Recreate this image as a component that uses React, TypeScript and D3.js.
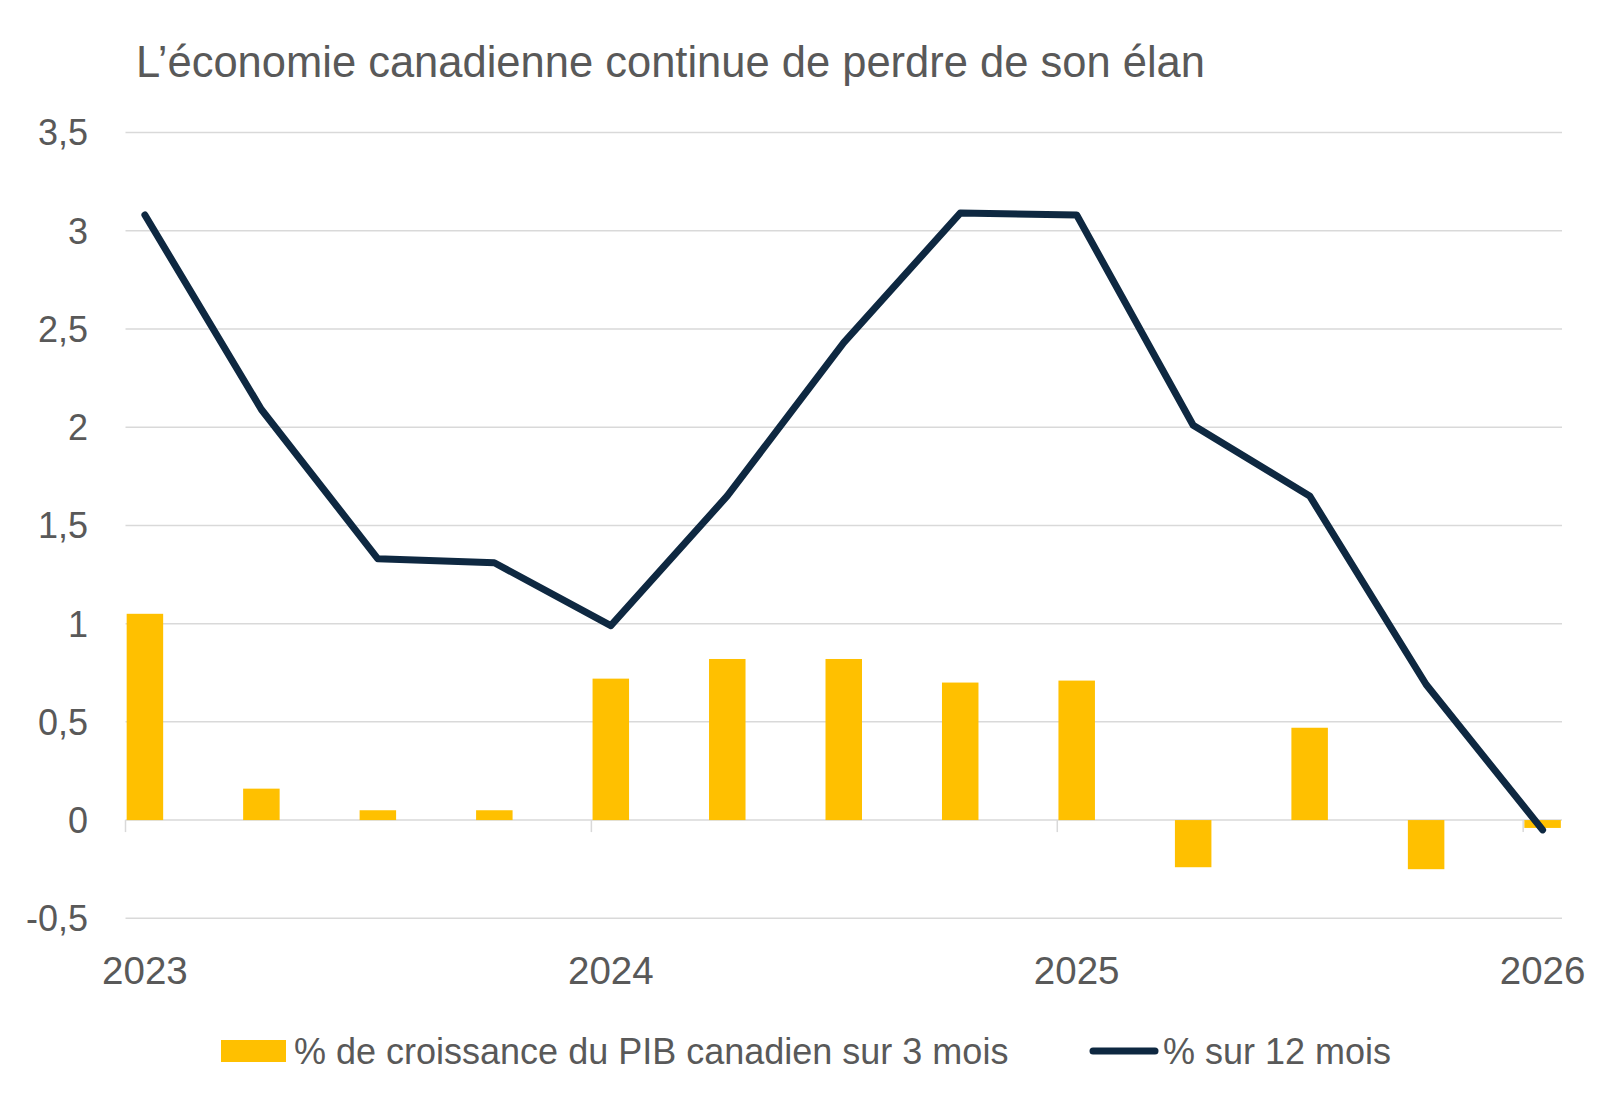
import { useMemo } from 'react'
import * as d3 from 'd3'

// ─── Data ─────────────────────────────────────────────────────────────────────

const TITLE = 'L’économie canadienne continue de perdre de son élan'

// quarterly observations, one per first month of the quarter
const quarters = [
  '2023-01', '2023-04', '2023-07', '2023-10',
  '2024-01', '2024-04', '2024-07', '2024-10',
  '2025-01', '2025-04', '2025-07', '2025-10',
  '2026-01',
]
const growth3m = [1.05, 0.16, 0.05, 0.05, 0.72, 0.82, 0.82, 0.7, 0.71, -0.24, 0.47, -0.25, -0.04]
const growth12m = [3.08, 2.09, 1.33, 1.31, 0.99, 1.65, 2.43, 3.09, 3.08, 2.01, 1.65, 0.69, -0.05]

const yTicks = [-0.5, 0, 0.5, 1, 1.5, 2, 2.5, 3, 3.5]
const yearLabels = ['2023', '2024', '2025', '2026']

const legendBar = '% de croissance du PIB canadien sur 3 mois'
const legendLine = '% sur 12 mois'

// ─── Layout / style ───────────────────────────────────────────────────────────

const W = 1600
const H = 1107
const PLOT = { left: 125.5, right: 1562, top: 132.5, bottom: 918.3 }
const BAR = '#FFC000'
const LINE = '#0E2841'
const GRID = '#D9D9D9'
const TEXT = '#595959'
const FONT = '"Liberation Sans", Arial, sans-serif'

const fmt = (v: number) => String(v).replace('.', ',')

export default function App() {
  // monthly date axis, Jan 2023 .. Jan 2026
  const months = useMemo(
    () => d3.timeMonths(new Date(2023, 0, 1), new Date(2026, 1, 1)).map(d3.timeFormat('%Y-%m')),
    [],
  )

  const x = d3.scaleBand<string>()
    .domain(months)
    .range([PLOT.left, PLOT.right])
    .paddingInner(0.06)
    .paddingOuter(0.03)

  const y = d3.scaleLinear().domain([-0.5, 3.5]).range([PLOT.bottom, PLOT.top])

  const step = x.step()
  const slotLeft = (m: string) => PLOT.left + months.indexOf(m) * step
  const centre = (m: string) => (x(m) ?? 0) + x.bandwidth() / 2

  const line = d3.line<number>()
    .x((_, i) => centre(quarters[i]))
    .y((d) => y(d))

  const yearMonths = yearLabels.map((yr) => `${yr}-01`)

  return (
    <div style={{ position: 'absolute', left: 0, top: 0 }}>
      <svg width={W} height={H} style={{ display: 'block', background: '#fff' }} fontFamily={FONT}>
        <text x={136} y={77} fontSize={43.5} fill={TEXT}>{TITLE}</text>

        {/* gridlines */}
        {yTicks.map((t) => (
          <line key={t} x1={PLOT.left} x2={PLOT.right} y1={y(t)} y2={y(t)} stroke={GRID} strokeWidth={1.5} />
        ))}

        {/* y labels */}
        {yTicks.map((t) => (
          <text key={t} x={88} y={y(t)} dy="0.36em" textAnchor="end" fontSize={36} fill={TEXT}>
            {fmt(t)}
          </text>
        ))}

        {/* year ticks below zero line */}
        {yearMonths.map((m) => (
          <line key={m} x1={slotLeft(m)} x2={slotLeft(m)} y1={y(0)} y2={y(0) + 12} stroke={GRID} strokeWidth={1.5} />
        ))}

        {/* 3-month bars */}
        {growth3m.map((v, i) => (
          <rect
            key={quarters[i]}
            x={x(quarters[i])}
            width={x.bandwidth()}
            y={Math.min(y(v), y(0))}
            height={Math.abs(y(v) - y(0))}
            fill={BAR}
          />
        ))}

        {/* 12-month line */}
        <path
          d={line(growth12m) ?? ''}
          fill="none"
          stroke={LINE}
          strokeWidth={7}
          strokeLinejoin="round"
          strokeLinecap="round"
        />

        {/* year labels */}
        {yearMonths.map((m, i) => (
          <text key={m} x={centre(m)} y={984} textAnchor="middle" fontSize={38.5} fill={TEXT}>
            {yearLabels[i]}
          </text>
        ))}

        {/* legend */}
        <rect x={221} y={1040} width={65} height={22} fill={BAR} />
        <text x={294} y={1064} fontSize={36} fill={TEXT}>{legendBar}</text>
        <line x1={1093} x2={1155} y1={1051} y2={1051} stroke={LINE} strokeWidth={7} strokeLinecap="round" />
        <text x={1163} y={1064} fontSize={36} fill={TEXT}>{legendLine}</text>
      </svg>
    </div>
  )
}
